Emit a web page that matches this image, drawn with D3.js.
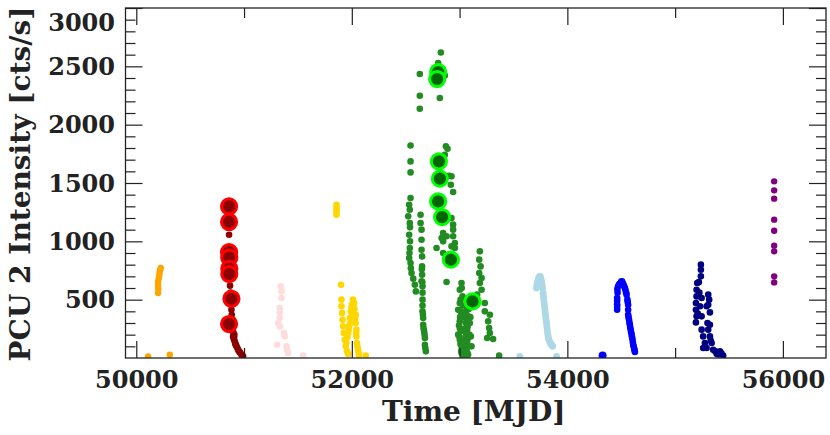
<!DOCTYPE html>
<html><head><meta charset="utf-8">
<script src="https://cdn.jsdelivr.net/npm/d3@7"></script>
<style>body{margin:0;background:#fff}svg{display:block}text{font-family:"DejaVu Serif",serif;font-weight:bold;fill:#222}</style>
</head><body><svg id="c" width="830" height="435"></svg>
<script>
// ---- data: [MJD, PCU2 rate cts/s] ----
const orange = [[50110,14],[50311,28],[50227,771],[50222,757],[50218,743],[50215,720],[50212,700],[50208,680],[50202,657],[50202,635],[50202,614],[50204,590],[50202,557]];
const darkred = [[50861,1057],[50861,1230],[50870,620],[50876,560],[50883,414],[50886,371],[50890,330],[50898,185],[50905,160],[50910,200],[50914,142],[50920,120],[50930,100],[50945,71],[50960,50],[50976,28],[50991,14],
  [50895,250],[50900,220],[50908,175],[50917,130],[50925,110],[50938,85],[50952,60],[50968,40],[50984,20]];
const redBig = [[50861,1299],[50861,1166],[50861,908],[50863,860],[50863,765],[50863,720],[50883,508],[50861,291]];
const pink = [[51341,614],[51348,571],[51348,514],[51332,428],[51332,390],[51332,343],[51316,300],[51332,271],[51378,185],[51370,214],[51307,114],[51394,100],[51400,70],[51409,43],[51548,22]];
const gold = [[51858,1314],[51858,1290],[51858,1270],[51858,1250],[51858,1228],[51900,628],
  [51904,500],[51904,443],[51910,385],[51914,328],[51919,271],[51926,214],[51935,157],[51944,100],[51956,57],[51966,34],
  [52011,500],[52021,471],[51997,428],[52006,385],[52036,371],[51981,343],[52036,300],[51975,271],[52043,243],[51966,214],[52043,185],[52048,128],[52058,71],[52067,22],[52129,22],
  [51990,400],[52000,457],[52015,440],[52025,420],[52030,340],[51985,300],[51970,240],[51960,180],[51950,130],[52040,214],[52052,100],[52062,45]];
const green = [[52545,1822],[52545,1685],[52545,1591],[52545,1371],[52532,1314],[52538,1271],[52523,1214],[52538,1157],[52532,1057],[52538,943],[52532,857],[52545,814],[52554,728],[52585,628],[52594,571],
  [52540,1000],[52535,900],[52540,1120],[52548,770],[52570,680],
  [52638,1228],[52638,1157],[52647,1100],[52647,1014],[52647,928],[52652,871],[52652,785],[52652,714],[52647,657],[52656,614],[52656,500],[52656,400],[52662,343],[52662,285],[52671,228],[52678,171],[52678,114],[52687,57],
  [52650,760],[52654,650],[52656,560],[52656,450],[52660,370],[52666,255],[52675,200],[52682,85],
  [52826,2619],[52801,2528],[52631,2434],[52863,2422],[52631,2248],[52817,2228],[52631,2137],[52873,1814],[52888,1794],[52863,1742],[52903,1562],[52919,1485],[52940,1423],[52925,1557],[52925,1200],[52940,1143],[52940,1100],[52847,1071],[52879,1043],[52833,1028],[52940,1043],[52956,986],[52847,1000],[52925,957],[52786,943],[52956,943],[52847,900],[52879,651],
  [53018,643],[53002,585],[53027,528],[53002,471],[52987,414],[53018,371],[53002,314],[53002,257],[52987,200],[53002,157],[53018,100],[53018,43],[53065,414],[53079,357],[53058,300],[53070,243],[53058,185],[53070,128],[53065,71],[53079,28],[53095,300],[53104,185],[53111,100],[53039,14],
  [53010,400],[53030,450],[53040,350],[53050,250],[53045,150],[53030,80],[53055,50],[53090,200],[53085,420],[53100,350],
  [53010,500],[53020,600],[53005,350],[53012,230],[53000,180],[53008,120],[53015,60],[53060,380],[53068,330],[53075,270],[53062,210],[53074,160],[53063,100],[53072,45],[52995,280],
  [53188,914],[53182,843],[53195,785],[53182,728],[53204,686],[53188,643],[53204,585],[53163,543],[53234,471],[53234,400],[53281,371],[53265,314],[53274,257],[53281,214],[53256,171],[53311,163],[53367,20]];
const greenBig = [[52801,2451],[52792,2391],[52808,1685],[52817,1537],[52801,1342],[52838,1208],[52919,843],[53120,485]];
const lightblue = [[53559,14],[53900,14],[53714,600],[53720,640],[53729,671],[53745,700],[53761,657],[53770,600],[53775,555],[53781,505],[53787,455],[53793,405],[53799,355],[53806,305],[53812,255],[53818,205],[53825,165],[53840,130],[53852,115],[53863,100],
  [53735,690],[53750,695],[53755,680],[53765,630],[53778,530],[53784,480],[53790,430],[53796,380],[53802,330],[53809,280],[53815,230],[53822,185],[53832,150],[53846,120],[53858,108],[53717,620],[53724,655]];
const blue = [[54503,657],[54495,640],[54480,630],[54471,614],[54466,560],[54462,514],[54462,460],[54462,414],[54515,640],[54534,600],[54550,543],[54557,500],[54564,457],[54564,414],[54564,371],[54572,330],[54580,285],[54588,240],[54596,200],[54604,160],[54611,114],[54620,80],[54627,51],
  [54500,650],[54508,655],[54520,630],[54527,615],[54540,580],[54545,560],[54560,480],[54568,350],[54576,305],[54584,260],[54592,220],[54600,180],[54608,135],[54615,100],[54624,65],[54486,635],[54464,590],[54462,490],[54462,440]];
const blueBig = [[54327,22]];
const navy = [[55239,800],[55239,757],[55239,700],[55205,643],[55199,585],[55199,528],[55193,471],[55193,414],[55199,357],[55193,305],[55246,357],[55230,443],[55246,514],[55307,543],[55316,500],[55307,457],[55323,391],[55292,443],[55323,285],[55307,243],[55246,243],[55260,185],[55323,185],[55276,128],[55339,128],[55292,86],[55353,71],[55385,37],[55416,57],[55446,20],[55260,86],
  [55220,650],[55225,560],[55210,380],[55300,300],[55330,150],[55370,60],[55400,30],[55430,40]];
const purple = [[55919,1514],[55919,1437],[55919,1366],[55919,1186],[55919,1091],[55919,963],[55919,914],[55919,700],[55919,648]];

const xMajor = [50000,52000,54000,56000];
const xMinor = [51000,53000,55000];
const yMajor = [500,1000,1500,2000,2500,3000];
const yMinor = d3.range(100,3000,100).filter(v=>v%500!==0);

// ---- layout ----
const L=125.5, R=826, T=8, B=358;
const svg = d3.select('#c');
const x = d3.scaleLinear().domain([49900,56400]).range([L,R]);
const y = d3.scaleLinear().domain([0,3000]).range([B,T]);

svg.append('defs').append('clipPath').attr('id','pc').append('rect')
  .attr('x',L).attr('y',T).attr('width',R-L).attr('height',B-T);
const plot = svg.append('g').attr('clip-path','url(#pc)');

function dots(data, color, r){
  plot.append('g').selectAll('circle').data(data).join('circle')
    .attr('cx',d=>x(d[0])).attr('cy',d=>y(d[1])).attr('r',r).attr('fill',color);
}
function big(data, fill, stroke){
  plot.append('g').selectAll('circle').data(data).join('circle')
    .attr('cx',d=>x(d[0])).attr('cy',d=>y(d[1])).attr('r',7.6)
    .attr('fill',fill).attr('stroke',stroke).attr('stroke-width',3);
}
dots(orange,'#FFA500',3.2);
dots(darkred,'#8B0000',3.3);
big(redBig,'#8B0000','#FF0000');
dots(pink,'#FFDCDC',3.3);
dots(gold,'#FFD700',3.3);
dots(green,'#228B22',3.3);
big(greenBig,'#006400','#00FF00');
dots(lightblue,'#ADD8E6',3.4);
dots(blue,'#0000FF',3.3);
dots(blueBig,'#0000FF',4);
dots(navy,'#000080',3.3);
dots(purple,'#800080',3.2);

// ---- axes ----
function styleAx(g){ g.select('.domain').remove(); g.selectAll('line').attr('stroke','#222').attr('stroke-width',1.2); }
svg.append('g').attr('transform',`translate(0,${B})`)
  .call(d3.axisBottom(x).tickValues(xMajor).tickFormat(d3.format('d')).tickSizeInner(-17).tickPadding(13))
  .call(styleAx).selectAll('text').attr('font-size',24);
svg.append('g').attr('transform',`translate(0,${B})`)
  .call(d3.axisBottom(x).tickValues(xMinor).tickFormat('').tickSizeInner(-10)).call(styleAx);
svg.append('g').attr('transform',`translate(0,${T})`)
  .call(d3.axisTop(x).tickValues(xMajor).tickFormat('').tickSizeInner(-17)).call(styleAx);
svg.append('g').attr('transform',`translate(0,${T})`)
  .call(d3.axisTop(x).tickValues(xMinor).tickFormat('').tickSizeInner(-10)).call(styleAx);
const gl = svg.append('g').attr('transform',`translate(${L},0)`)
  .call(d3.axisLeft(y).tickValues(yMajor).tickFormat(d3.format('d')).tickSizeInner(-17).tickPadding(10.5))
  .call(styleAx);
gl.selectAll('text').attr('font-size',24).attr('dy',d=>d===3000?'0.95em':'0.34em');
svg.append('g').attr('transform',`translate(${L},0)`)
  .call(d3.axisLeft(y).tickValues(yMinor).tickFormat('').tickSizeInner(-10)).call(styleAx);
svg.append('g').attr('transform',`translate(${R},0)`)
  .call(d3.axisRight(y).tickValues(yMajor).tickFormat('').tickSizeInner(-17)).call(styleAx);
svg.append('g').attr('transform',`translate(${R},0)`)
  .call(d3.axisRight(y).tickValues(yMinor).tickFormat('').tickSizeInner(-10)).call(styleAx);

svg.append('rect').attr('x',L).attr('y',T).attr('width',R-L).attr('height',B-T)
  .attr('fill','none').attr('stroke','#222').attr('stroke-width',1.3);

svg.append('text').attr('x',(L+R)/2-2).attr('y',421).attr('text-anchor','middle')
  .attr('font-size',28).text('Time [MJD]');
svg.append('text').attr('transform',`translate(30,${(T+B)/2+1}) rotate(-90)`).attr('text-anchor','middle')
  .attr('font-size',28).text('PCU 2 Intensity [cts/s]');
</script></body></html>
